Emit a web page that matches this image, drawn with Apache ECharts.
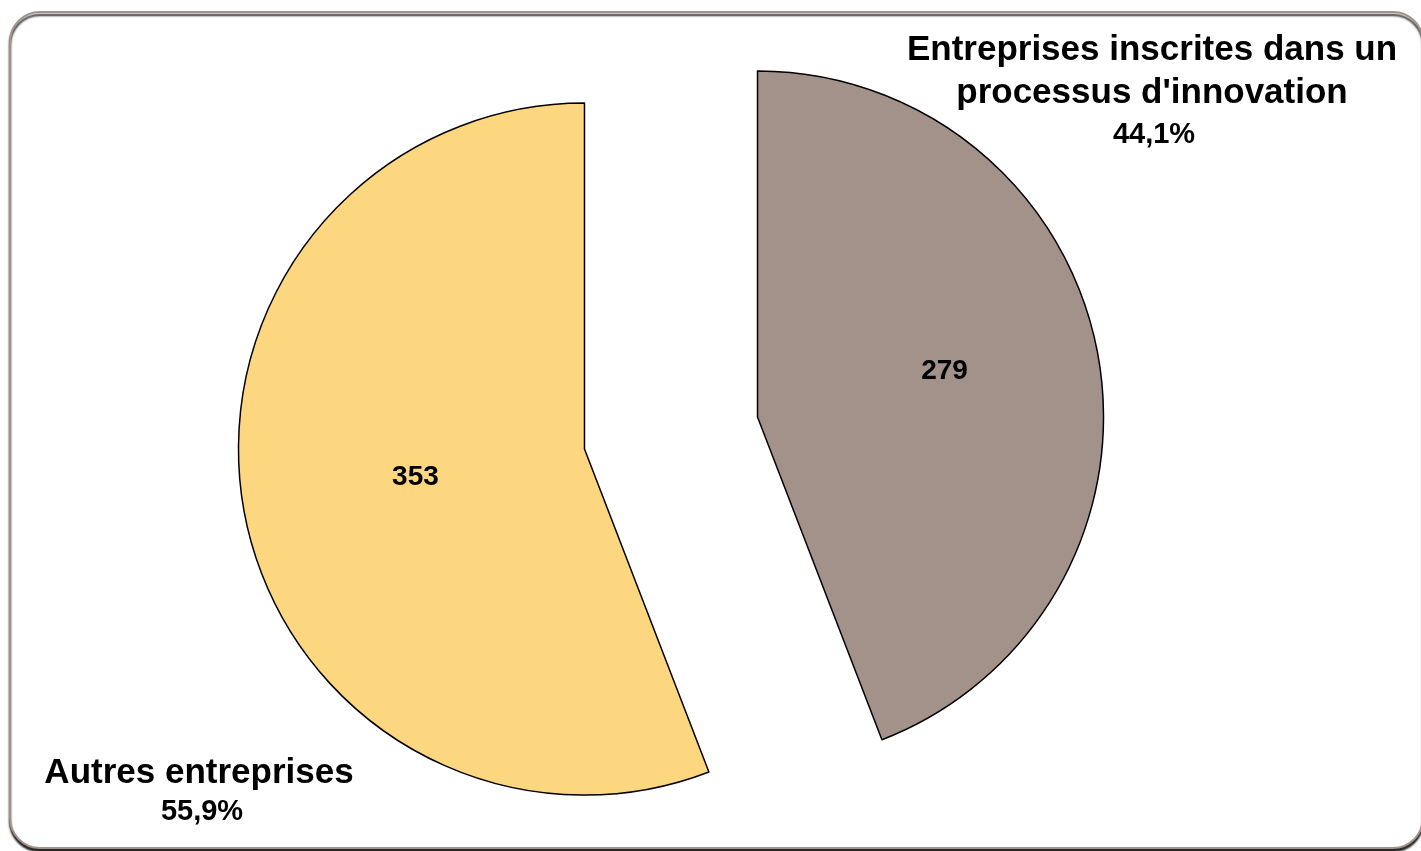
<!DOCTYPE html>
<html>
<head>
<meta charset="utf-8">
<script src="https://cdn.jsdelivr.net/npm/echarts@6/dist/echarts.min.js"></script>
<style>
  html, body { margin: 0; padding: 0; background: #ffffff; }
  #chart { width: 1421px; height: 851px; }
</style>
</head>
<body>
<div id="chart"></div>
<script>
// ---- data ----
const categories = ["Entreprises inscrites dans un\nprocessus d'innovation", "Autres entreprises"];
const values = [279, 353];
const colors = ['#A3928A', '#FDD780'];

const total = values.reduce((a, b) => a + b, 0);
const pctText = values.map(v => (v / total * 100).toFixed(1).replace('.', ',') + '%');

const FONT = '"Liberation Sans", Arial, sans-serif';

const chart = echarts.init(document.getElementById('chart'), null, { renderer: 'canvas' });

chart.setOption({
  animation: false,
  backgroundColor: '#ffffff',
  graphic: [
    {
      type: 'rect', z: 0,
      shape: { x: 10, y: 12, width: 1413, height: 836, r: 30 },
      style: { fill: '#ffffff', stroke: '#A3928A', lineWidth: 2,
               shadowColor: 'rgba(0,0,0,0.85)', shadowOffsetY: 3, shadowOffsetX: 0, shadowBlur: 2 }
    },
    {
      type: 'text', z: 10, x: 1152, y: 72,
      style: { text: categories[0], font: 'bold 35px ' + FONT, fill: '#000',
               align: 'center', verticalAlign: 'middle', lineHeight: 43 }
    },
    {
      type: 'text', z: 10, x: 1154, y: 135,
      style: { text: pctText[0], font: 'bold 29px ' + FONT, fill: '#000',
               align: 'center', verticalAlign: 'middle' }
    },
    {
      type: 'text', z: 10, x: 199, y: 773,
      style: { text: categories[1], font: 'bold 35px ' + FONT, fill: '#000',
               align: 'center', verticalAlign: 'middle' }
    },
    {
      type: 'text', z: 10, x: 202, y: 812,
      style: { text: pctText[1], font: 'bold 29px ' + FONT, fill: '#000',
               align: 'center', verticalAlign: 'middle' }
    }
  ],
  series: [{
    type: 'pie',
    z: 5,
    center: [671, 433],
    radius: 346,
    startAngle: 90,
    clockwise: true,
    avoidLabelOverlap: false,
    selectedMode: 'multiple',
    selectedOffset: 88,
    emphasis: { disabled: true },
    itemStyle: { borderColor: '#000', borderWidth: 1.5 },
    select: { itemStyle: { borderColor: '#000', borderWidth: 1.5 } },
    label: {
      show: true, position: 'inside', formatter: '{c}',
      fontFamily: FONT, fontWeight: 'bold', fontSize: 28, color: '#000'
    },
    labelLine: { show: false },
    labelLayout: function (p) {
      return p.dataIndex === 0 ? { dx: 14, dy: -13 } : { dx: 4, dy: -4 };
    },
    data: categories.map((name, i) => ({
      name: name, value: values[i], selected: true,
      itemStyle: { color: colors[i] }
    }))
  }]
});
</script>
</body>
</html>
